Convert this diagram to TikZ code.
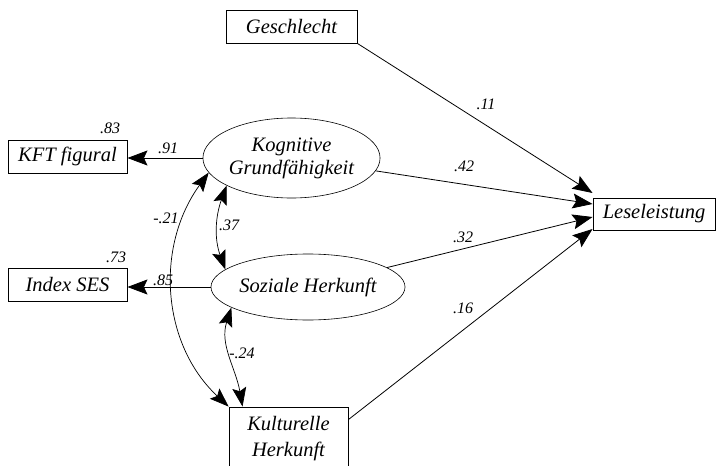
\documentclass[tikz,border=0pt]{standalone}
\usepackage{fontspec}
\setmainfont{Liberation Serif}
\usetikzlibrary{arrows.meta,shapes.geometric,calc}
\begin{document}
\begin{tikzpicture}[x=1pt,y=-1pt,
  txt/.style={font=\fontsize{20.5}{23}\selectfont\itshape, align=center},
  box/.style={txt, draw, rectangle, inner sep=0pt, line width=0.9pt},
  latent/.style={txt, draw, ellipse, inner sep=0pt, line width=0.6pt},
  coef/.style={font=\fontsize{16}{18}\selectfont\itshape, inner sep=0pt},
  path arrow/.style={line width=0.8pt, -{Stealth[length=20pt,width=15pt,inset=3.5pt]}},
  cov arrow/.style={{Stealth[length=19pt,width=14pt,inset=3.5pt]}-{Stealth[length=19pt,width=14pt,inset=3.5pt]}, line width=0.7pt}
]
\useasboundingbox (0,0) rectangle (716,466);
\clip (0,0) rectangle (716,466);

% observed variables
\node[box, minimum width=131pt, minimum height=33pt] (gesch) at (291.5,26.5) {Geschlecht};
\node[box, minimum width=119pt, minimum height=33pt] (kft) at (67.5,156.5) {KFT figural};
\node[box, minimum width=119pt, minimum height=33pt] (ses) at (67.5,284.5) {Index SES};
\node[box, minimum width=122pt, minimum height=32pt] (lese) at (654,214) {Leseleistung};
\node[box, minimum width=119pt, minimum height=64pt] (kult) at (288.5,439) {Kulturelle\\[3pt]Herkunft};

% latent variables
\node[latent, minimum width=157pt, minimum height=80pt] (kogn) at (291.5,158) {Kognitive\\Grundfähigkeit};
\node[latent, minimum width=190pt, minimum height=66pt] (soz) at (308,287) {Soziale Herkunft};

% target points on Leseleistung
\coordinate (t1) at ($(lese.west)+(0,-21)$);
\coordinate (t2) at ($(lese.west)+(0,-10)$);
\coordinate (t3) at ($(lese.west)+(0,3)$);
\coordinate (t4) at ($(lese.west)+(0,15)$);
\coordinate (k1) at ($(kult.north east)+(0,13)$);
\coordinate (k2) at ($(kult.north west)+(14,0)$);

% loadings
\draw[path arrow] (kogn.west) -- (kogn.west -| kft.east);
\draw[path arrow] (soz.west) -- (soz.west -| ses.east);

% structural paths
\draw[path arrow] (gesch.south east) -- (t1);
\draw[path arrow] (kogn) -- (t2);
\draw[path arrow] (soz) -- (t3);
\draw[path arrow] (k1) -- (t4);

% covariances
\draw[cov arrow] (kogn.190) to[out=234, in=137] (kult.north west);
\draw[cov arrow] (kogn.203) to[out=250, in=110] (soz.168);
\draw[cov arrow] (soz.195) to[out=252, in=100] (k2);

% coefficients
\node[coef] (c83) at (110,128) {.83};
\node[coef] (c91) at (168,148) {.91};
\node[coef] (c73) at (116,257) {.73};
\node[coef] (c85) at (163,280) {.85};
\node[coef] (c21) at (166,218) {-.21};
\node[coef] (c37) at (229,225) {.37};
\node[coef] (c24) at (242,353) {-.24};
\node[coef] (c11) at (486,104) {.11};
\node[coef] (c42) at (464,166) {.42};
\node[coef] (c32) at (463,237) {.32};
\node[coef] (c16) at (463,308) {.16};
\end{tikzpicture}
\end{document}
